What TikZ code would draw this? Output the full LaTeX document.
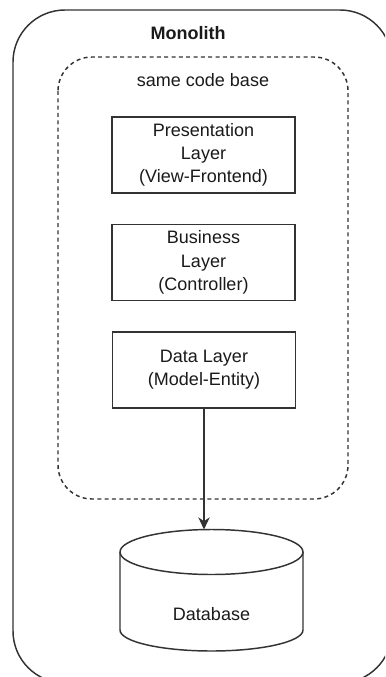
\documentclass[tikz,border=0pt]{standalone}
\usepackage{fontspec}
\setmainfont{Liberation Sans}
\usetikzlibrary{arrows.meta,positioning,calc}
\definecolor{ink}{HTML}{1A1A1A}
\definecolor{edge}{HTML}{333333}
\tikzset{
  layerbox/.style = {rectangle, draw=edge, line width=1.1pt, fill=white,
                     minimum width=137.5pt, minimum height=57pt, inner sep=2pt,
                     font=\fontsize{13.5pt}{17.5pt}\selectfont, text=ink, align=center},
  dbline/.style   = {draw=edge, line width=1.1pt},
  flow/.style     = {-{Stealth[length=3.2mm,width=3mm,inset=1mm]}, line width=1.1pt, draw=edge},
  lbl/.style      = {font=\fontsize{13.5pt}{17.5pt}\selectfont, text=ink}
}

\begin{document}
\begin{tikzpicture}[x=0.75pt,y=-0.75pt]
    \useasboundingbox (0,0) rectangle (385,677);
    \clip (0,0) rectangle (385,677);
    % outer monolith frame and shared code base
    \draw[edge, line width=1.1pt, rounded corners=39pt] (13,10) rectangle (392,683);
    \draw[edge, line width=1.1pt, dash pattern=on 3pt off 2.5pt, rounded corners=25.5pt] (58,57) rectangle (348,499);
    \node[lbl, font=\fontsize{13.5pt}{17.5pt}\selectfont\bfseries] (mono) at (188,33) {Monolith};
    \node[lbl] (codebase) at (203,80) {same code base};
    % layers
    \node[layerbox] (pres) at (203.5,155) {Presentation\\Layer\\(View-Frontend)};
    \node[layerbox] (biz) at (203.5,262.5) {Business\\Layer\\(Controller)};
    \node[layerbox] (data) at (204,370) {Data Layer\\(Model-Entity)};
    % database cylinder
    \draw[dbline] (120,552) -- (120,630) arc[start angle=180, end angle=360, x radius=91.5, y radius=-21] -- (303,552);
    \draw[dbline] (211.5,552) ellipse[x radius=91.5, y radius=22.5];
    \coordinate (dbtop) at (211.5,529.5);
    \node[lbl] (db) at (211.5,614) {Database};
    \draw[flow] (data.south) -- (data.south |- dbtop);
  \end{tikzpicture}
\end{document}
